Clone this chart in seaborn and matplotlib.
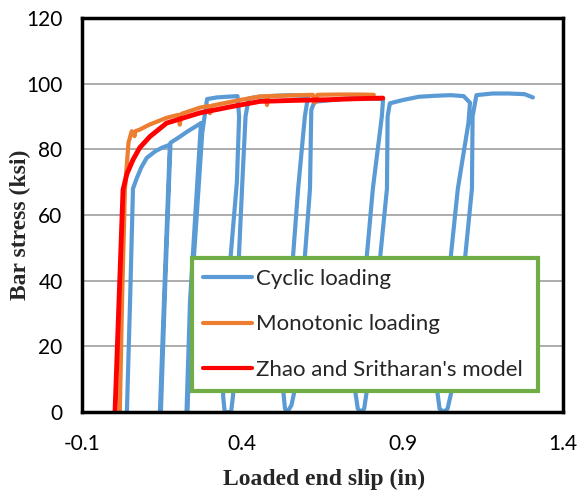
import numpy as np
import pandas as pd
import seaborn as sns
import matplotlib.pyplot as plt

# DATA ----------------------------------------------------------------------------------
# cyclic loading test: loaded end slip (in) / bar stress (ksi)
cyclic_slip = [0.040, 0.050, 0.059, 0.070, 0.085, 0.102, 0.130, 0.150, 0.174,
               0.158, 0.143, 0.146, 0.160, 0.176,
               0.200, 0.230, 0.255, 0.271,
               0.237, 0.226, 0.229, 0.240, 0.275, 0.290, 0.320, 0.350, 0.385,
               0.390, 0.383, 0.352, 0.340, 0.345, 0.365, 0.371, 0.383, 0.400, 0.410, 0.420,
               0.450, 0.500, 0.550, 0.605,
               0.595, 0.574, 0.527, 0.533, 0.540, 0.553, 0.564, 0.611, 0.615, 0.625,
               0.680, 0.730, 0.800, 0.839,
               0.835, 0.807, 0.751, 0.760, 0.770, 0.780, 0.789, 0.851, 0.853, 0.860,
               0.900, 0.950, 1.000, 1.050, 1.090, 1.110,
               1.105, 1.072, 1.007, 1.015, 1.028, 1.040, 1.054, 1.116, 1.118, 1.130,
               1.180, 1.230, 1.280, 1.306]
cyclic_stress = [0, 34, 68, 71, 74.5, 77.4, 79.5, 80.5, 81.4,
                 40, 0, 0, 40, 82,
                 83.5, 85.5, 87, 88,
                 34, 0, 0, 34, 85, 95.3, 95.8, 96, 96.2,
                 90, 70, 34, 5, 0, 0, 5, 34, 70, 90, 95.5,
                 96, 96.3, 96.5, 96.2,
                 90, 68, 7, 1, 0, 2, 7, 68, 92, 94.5,
                 95, 95.5, 95.5, 95.3,
                 90, 68, 7, 1, 0, 1, 7, 68, 90, 94,
                 95, 96, 96.3, 96.5, 96.2, 94.2,
                 88, 68, 7, 1, 0, 1, 7, 68, 90, 96.5,
                 97, 97, 96.8, 95.8]

# monotonic loading test
mono_slip = [0.018, 0.025, 0.034, 0.045, 0.055, 0.060, 0.064, 0.066, 0.080, 0.110,
             0.164, 0.200, 0.205, 0.210, 0.268, 0.295, 0.299, 0.305, 0.371, 0.420,
             0.455, 0.475, 0.477, 0.480, 0.550, 0.620, 0.627, 0.634, 0.700, 0.760, 0.810]
mono_stress = [0, 34, 68, 82, 85.5, 85, 84, 85.5, 86, 87.5,
               89.6, 90.5, 87.5, 90.8, 92.7, 93.2, 91, 93.3, 94.6, 95.5,
               96.1, 96.2, 93.5, 96.2, 96.4, 96.6, 94.2, 96.6, 96.7, 96.7, 96.6]

# Zhao and Sritharan's model
model_slip = [0.003, 0.028, 0.040, 0.059, 0.080, 0.112, 0.164, 0.268, 0.371, 0.455,
              0.560, 0.664, 0.750, 0.838]
model_stress = [0, 67.7, 72.5, 76.8, 80.5, 83.9, 88.0, 91.1, 93.1, 94.6,
                94.9, 95.1, 95.4, 95.6]

series_names = ['Cyclic loading', 'Monotonic loading', "Zhao and Sritharan's model"]
series_colors = ['#5B9BD5', '#ED7D31', '#FF0000']
x_ticks = [-0.1, 0.4, 0.9, 1.4]
y_ticks = [0, 20, 40, 60, 80, 100, 120]

# BUILD TABLE -------------------------------------------------------------------------
df = pd.concat([
    pd.DataFrame({'slip': cyclic_slip, 'stress': cyclic_stress, 'series': series_names[0]}),
    pd.DataFrame({'slip': mono_slip, 'stress': mono_stress, 'series': series_names[1]}),
    pd.DataFrame({'slip': model_slip, 'stress': model_stress, 'series': series_names[2]}),
], ignore_index=True)

# PLOT --------------------------------------------------------------------------------
sns.set_style('white')
plt.rcParams['font.family'] = ['Lato', 'DejaVu Sans']

fig = plt.figure(figsize=(5.79, 4.94), dpi=100)
ax = fig.add_axes([0.1416, 0.166, 0.8308, 0.7976])

widths = [3.0, 3.0, 3.5]
for name, color, lw in zip(series_names, series_colors, widths):
    sns.lineplot(data=df[df['series'] == name], x='slip', y='stress', sort=False,
                 estimator=None, color=color, linewidth=lw, label=name, ax=ax,
                 solid_joinstyle='round')

ax.set_xlim(-0.1, 1.4)
ax.set_ylim(0, 120)
ax.set_xticks(x_ticks)
ax.set_xticklabels([f'{t:.1f}' for t in x_ticks])
ax.set_yticks(y_ticks)
ax.tick_params(axis='both', labelsize=15, length=0, colors='black')
ax.tick_params(axis='x', pad=16)
ax.tick_params(axis='y', pad=14)
ax.yaxis.grid(True, color='#A6A6A6', linewidth=1.3)
ax.set_axisbelow(True)
for s in ax.spines.values():
    s.set_color('black')
    s.set_linewidth(2.5)

ax.set_xlabel('Loaded end slip (in)', fontsize=17, fontweight='bold',
              family='Liberation Serif', va='center')
ax.set_ylabel('Bar stress (ksi)', fontsize=17, fontweight='bold',
              family='Liberation Serif', va='center')
ax.xaxis.set_label_coords(0.503, -0.172)
ax.yaxis.set_label_coords(-0.127, 0.475)

leg = ax.legend(loc='lower left', bbox_to_anchor=(0.2287, 0.0533, 0.7193, 0.34),
                mode='expand', fontsize=16, frameon=True, fancybox=False,
                framealpha=1, handlelength=2.2, handletextpad=0.2, labelspacing=1.15,
                borderpad=0.5, borderaxespad=0)
leg.get_frame().set_edgecolor('#70AD47')
leg.get_frame().set_linewidth(3)
for line in leg.get_lines():
    line.set_linewidth(3)

fig.savefig('out.png', dpi=100)
